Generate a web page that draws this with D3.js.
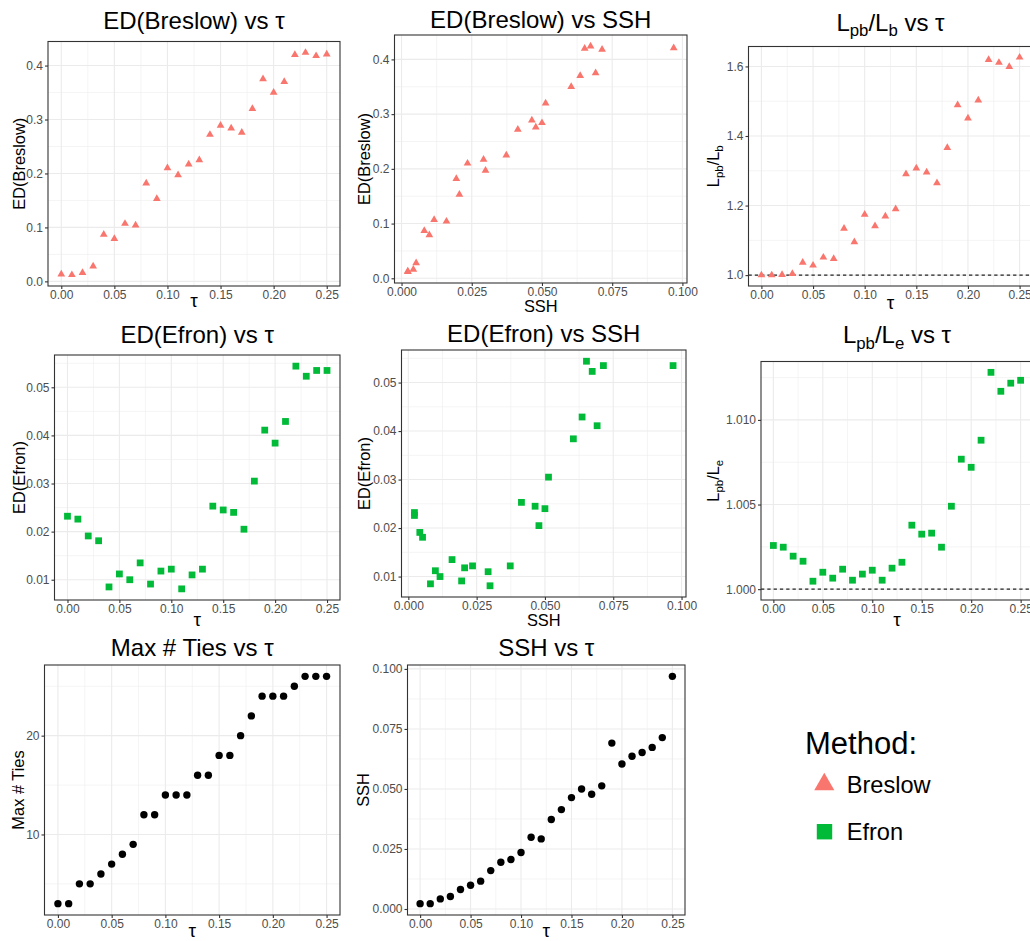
<!DOCTYPE html>
<html><head><meta charset="utf-8">
<script src="https://cdn.jsdelivr.net/npm/d3@7"></script>
<style>
body{margin:0;background:#fff}
svg{display:block}
text{font-family:"Liberation Sans",Arial,Helvetica,sans-serif}
</style>
</head><body>
<svg id="chart" width="1030" height="941"></svg>
<script>
// ---------------- DATA ----------------
const tau = [0,0.01,0.02,0.03,0.04,0.05,0.06,0.07,0.08,0.09,0.10,0.11,0.12,0.13,0.14,0.15,0.16,0.17,0.18,0.19,0.20,0.21,0.22,0.23,0.24,0.25];
const edBreslow = [0.013,0.012,0.016,0.028,0.087,0.079,0.107,0.104,0.182,0.153,0.210,0.197,0.217,0.225,0.272,0.289,0.284,0.276,0.320,0.375,0.350,0.370,0.420,0.424,0.418,0.421];
const edEfron = [0.0232,0.0226,0.0191,0.0181,0.0085,0.0112,0.0100,0.0135,0.0091,0.0118,0.0122,0.0081,0.0110,0.0122,0.0253,0.0245,0.0240,0.0205,0.0305,0.0411,0.0384,0.0429,0.0544,0.0523,0.0535,0.0535];
const lpbLb = [1.000,1.000,1.001,1.004,1.036,1.028,1.051,1.047,1.134,1.095,1.174,1.141,1.169,1.190,1.291,1.307,1.296,1.265,1.366,1.489,1.451,1.503,1.619,1.611,1.599,1.626];
const lpbLe = [1.00258,1.00248,1.00195,1.00165,1.00047,1.00100,1.00065,1.00118,1.00053,1.00089,1.00112,1.00053,1.00124,1.00159,1.00378,1.00325,1.00331,1.00248,1.00490,1.00768,1.00720,1.00880,1.01281,1.01169,1.01217,1.01234];
const maxTies = [3,3,5,5,6,7,8,9,12,12,14,14,14,16,16,18,18,20,22,24,24,24,25,26,26,26];
const ssh = [0.00223,0.00223,0.0042,0.0052,0.0081,0.0099,0.0116,0.0160,0.0195,0.0206,0.0235,0.0299,0.0292,0.0373,0.0414,0.0464,0.0500,0.0478,0.0513,0.0691,0.0604,0.0636,0.0652,0.0673,0.0714,0.0969];
const methods = ["Breslow","Efron"];

const tauTicks = [0,0.05,0.10,0.15,0.20,0.25];
const sshTicks = [0,0.025,0.050,0.075,0.100];
const edBreslowTicks = [0,0.1,0.2,0.3,0.4];
const edEfronTicks = [0.01,0.02,0.03,0.04,0.05];
const lpbLbTicks = [1.0,1.2,1.4,1.6];
const lpbLeTicks = [1.000,1.005,1.010];
const maxTiesTicks = [10,20];

// ---------------- STYLE / LAYOUT ----------------
const colorScale = d3.scaleOrdinal().domain(methods).range(["#F8766D","#00BA38"]);
const TAU = "\u03C4";
const panels = [
  {x:tau, y:edBreslow, xt:tauTicks, yt:edBreslowTicks, xf:".2f", yf:".1f", method:"Breslow",
   title:[{t:"ED(Breslow) vs "+TAU}], xlab:[{t:TAU}], ylab:[{t:"ED(Breslow)"}], greekX:true,
   box:[48,41.5,340,286], titleY:28.5, xlabY:306.5, ylabX:24.5},
  {x:ssh, y:edBreslow, xt:sshTicks, yt:edBreslowTicks, xf:".3f", yf:".1f", method:"Breslow",
   title:[{t:"ED(Breslow) vs SSH"}], xlab:[{t:"SSH"}], ylab:[{t:"ED(Breslow)"}],
   box:[394.5,35,687,283], titleY:27.5, xlabY:312, ylabX:370},
  {x:tau, y:lpbLb, xt:tauTicks, yt:lpbLbTicks, xf:".2f", yf:".1f", method:"Breslow", hline:1,
   title:[{t:"L"},{t:"pb",sub:1},{t:"/"},{t:"L"},{t:"b",sub:1},{t:" vs "+TAU}], xlab:[{t:TAU}], greekX:true,
   ylab:[{t:"L"},{t:"pb",sub:1},{t:"/"},{t:"L"},{t:"b",sub:1}],
   box:[748.5,46.5,1032.5,286], titleY:30.5, xlabY:309, ylabX:719},
  {x:tau, y:edEfron, xt:tauTicks, yt:edEfronTicks, xf:".2f", yf:".2f", method:"Efron",
   title:[{t:"ED(Efron) vs "+TAU}], xlab:[{t:TAU}], ylab:[{t:"ED(Efron)"}], greekX:true,
   box:[54.5,355,340,600], titleY:343.3, xlabY:626, ylabX:25},
  {x:ssh, y:edEfron, xt:sshTicks, yt:edEfronTicks, xf:".3f", yf:".2f", method:"Efron",
   title:[{t:"ED(Efron) vs SSH"}], xlab:[{t:"SSH"}], ylab:[{t:"ED(Efron)"}],
   box:[401.5,350,686,597], titleY:341.5, xlabY:626, ylabX:370},
  {x:tau, y:lpbLe, xt:tauTicks, yt:lpbLeTicks, xf:".2f", yf:".3f", method:"Efron", hline:1,
   title:[{t:"L"},{t:"pb",sub:1},{t:"/"},{t:"L"},{t:"e",sub:1},{t:" vs "+TAU}], xlab:[{t:TAU}], greekX:true,
   ylab:[{t:"L"},{t:"pb",sub:1},{t:"/"},{t:"L"},{t:"e",sub:1}],
   box:[761,361.5,1033,600], titleY:343.3, xlabY:626, ylabX:719},
  {x:tau, y:maxTies, xt:tauTicks, yt:maxTiesTicks, xf:".2f", yf:"d", method:null,
   title:[{t:"Max # Ties vs "+TAU}], xlab:[{t:TAU}], ylab:[{t:"Max # Ties"}], greekX:true,
   box:[44.5,665,340,915], titleY:656, xlabY:937, ylabX:24},
  {x:tau, y:ssh, xt:tauTicks, yt:sshTicks, xf:".2f", yf:".3f", method:null,
   title:[{t:"SSH vs "+TAU}], xlab:[{t:TAU}], ylab:[{t:"SSH"}], greekX:true,
   box:[407.5,665,685,915], titleY:656, xlabY:937, ylabX:369}
];

const svg = d3.select("#chart");
svg.append("rect").attr("width",1030).attr("height",941).attr("fill","#fff");

function expandDomain(vals){
  const [a,b] = d3.extent(vals);
  const e = (b-a)*0.05;
  return [a-e,b+e];
}
function minorTicks(ticks, dom){
  const step = ticks[1]-ticks[0];
  const out = [];
  for(let k=-1;k<ticks.length;k++){
    const v = ticks[0]+step*(k+0.5);
    if(v>=dom[0] && v<=dom[1]) out.push(v);
  }
  return out;
}
function richText(sel, segs, size){
  segs.forEach((s,i)=>{
    const prevSub = i>0 && segs[i-1].sub;
    let dy = 0;
    if(s.sub && !prevSub) dy = size*0.22;
    else if(!s.sub && prevSub) dy = -size*0.22;
    sel.append("tspan").attr("dy",dy).attr("font-size", s.sub? size*0.7 : size).text(s.t);
  });
}

panels.forEach(p=>{
  const [L,T,R,B] = p.box;
  const xDom = expandDomain(p.x);
  const yDom = expandDomain(p.hline!=null ? p.y.concat([p.hline]) : p.y);
  const xs = d3.scaleLinear().domain(xDom).range([L,R]);
  const ys = d3.scaleLinear().domain(yDom).range([B,T]);
  const g = svg.append("g");

  // gridlines (minor then major)
  const grid = g.append("g");
  minorTicks(p.xt,xDom).forEach(v=>grid.append("line").attr("x1",xs(v)).attr("x2",xs(v)).attr("y1",T).attr("y2",B)
     .attr("stroke","#EBEBEB").attr("stroke-width",0.55));
  minorTicks(p.yt,yDom).forEach(v=>grid.append("line").attr("y1",ys(v)).attr("y2",ys(v)).attr("x1",L).attr("x2",R)
     .attr("stroke","#EBEBEB").attr("stroke-width",0.55));
  p.xt.forEach(v=>grid.append("line").attr("x1",xs(v)).attr("x2",xs(v)).attr("y1",T).attr("y2",B)
     .attr("stroke","#EBEBEB").attr("stroke-width",1.1));
  p.yt.forEach(v=>grid.append("line").attr("y1",ys(v)).attr("y2",ys(v)).attr("x1",L).attr("x2",R)
     .attr("stroke","#EBEBEB").attr("stroke-width",1.1));

  // reference line
  if(p.hline!=null){
    g.append("line").attr("x1",L).attr("x2",R).attr("y1",ys(p.hline)).attr("y2",ys(p.hline))
     .attr("stroke","#222").attr("stroke-width",1.1).attr("stroke-dasharray","3.3,3");
  }

  // points
  const pts = p.x.map((xv,i)=>({x:xv,y:p.y[i]}));
  if(p.method==="Breslow"){
    g.selectAll(null).data(pts).enter().append("path")
     .attr("d", d3.symbol().type(d3.symbolTriangle).size(26)())
     .attr("transform",d=>`translate(${xs(d.x)},${ys(d.y)})`)
     .attr("fill",colorScale("Breslow"));
  } else if(p.method==="Efron"){
    g.selectAll(null).data(pts).enter().append("path")
     .attr("d", d3.symbol().type(d3.symbolSquare).size(46)())
     .attr("transform",d=>`translate(${xs(d.x)},${ys(d.y)})`)
     .attr("fill",colorScale("Efron"));
  } else {
    g.selectAll(null).data(pts).enter().append("circle")
     .attr("cx",d=>xs(d.x)).attr("cy",d=>ys(d.y)).attr("r",3.7).attr("fill","#000");
  }

  // border
  g.append("rect").attr("x",L).attr("y",T).attr("width",R-L).attr("height",B-T)
   .attr("fill","none").attr("stroke","#333").attr("stroke-width",1.1);

  // axes
  const xAxis = d3.axisBottom(xs).tickValues(p.xt).tickFormat(d3.format(p.xf)).tickSizeOuter(0).tickSizeInner(3).tickPadding(1);
  const yAxis = d3.axisLeft(ys).tickValues(p.yt).tickFormat(d3.format(p.yf)).tickSizeOuter(0).tickSizeInner(3).tickPadding(2);
  const xg = g.append("g").attr("transform",`translate(0,${B})`).call(xAxis);
  const yg = g.append("g").attr("transform",`translate(${L},0)`).call(yAxis);
  [xg,yg].forEach(a=>{
    a.select(".domain").remove();
    a.selectAll(".tick line").attr("stroke","#333").attr("stroke-width",1.1);
    a.selectAll(".tick text").attr("fill","#4D4D4D").attr("font-size",12)
     .attr("font-family",'"Liberation Sans",Arial,sans-serif');
  });
  xg.selectAll(".tick text").attr("dy","0.71em");

  // title
  const tt = g.append("text").attr("x",(L+R)/2).attr("y",p.titleY).attr("text-anchor","middle").attr("fill","#000");
  richText(tt,p.title,24);
  // x label
  const xl = g.append("text").attr("x",(L+R)/2).attr("y",p.xlabY).attr("text-anchor","middle").attr("fill","#000");
  richText(xl,p.xlab, p.greekX ? 19 : 16.4);
  // y label
  const yl = g.append("text").attr("transform",`translate(${p.ylabX},${(T+B)/2}) rotate(-90)`)
     .attr("text-anchor","middle").attr("fill","#000");
  richText(yl,p.ylab,16.4);
});

// ---------------- LEGEND ----------------
const lg = svg.append("g");
lg.append("text").attr("x",805).attr("y",754).attr("font-size",31).attr("fill","#000").text("Method:");
const legendRows = [
  {m:"Breslow", sym:d3.symbolTriangle, size:175, cx:824.3, cy:784.4, ty:793},
  {m:"Efron", sym:d3.symbolSquare, size:238, cx:824.5, cy:831.7, ty:840}
];
methods.forEach((m,i)=>{
  const r = legendRows[i];
  lg.append("path").attr("d",d3.symbol().type(r.sym).size(r.size)()).attr("transform",`translate(${r.cx},${r.cy})`)
    .attr("fill",colorScale(m));
  lg.append("text").attr("x",846.7).attr("y",r.ty).attr("font-size",23.6).attr("fill","#000").text(m);
});
</script>
</body></html>
